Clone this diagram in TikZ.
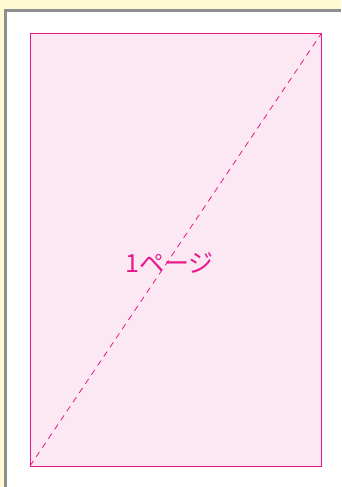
\documentclass[tikz,border=0pt]{standalone}
\usepackage{fontspec}
\newfontfamily\jpfont{Noto Sans CJK JP}
\definecolor{cream}{HTML}{FFFAD4}
\definecolor{frameg}{HTML}{8E8E8E}
\definecolor{pinkfill}{HTML}{FCE8F2}
\definecolor{pinkline}{HTML}{E8178A}
\tikzset{
  pagebox/.style={draw=pinkline, fill=pinkfill, line width=1pt},
  diag/.style={draw=pinkline, line width=0.8pt, dash pattern=on 6pt off 5pt},
  pagelabel/.style={text=pinkline, font=\jpfont\fontsize{25}{28}\selectfont, inner sep=0pt}
}
\begin{document}
\begin{tikzpicture}[x=1pt,y=-1pt]
\useasboundingbox (0,0) rectangle (341,487);
\fill[cream] (0,0) rectangle (341,487);
\fill[white] (5,10) rectangle (341,487);
\draw[frameg, line width=2.5pt] (5.5,487) -- (5.5,10.5) -- (341,10.5);
\coordinate (tl) at (30,34);
\coordinate (br) at (321,466);
\path[pagebox] (tl) rectangle (br);
\coordinate (bl) at (30,466);
\coordinate (tr) at (321,34);
\draw[diag] (bl) -- (tr);
\node[pagelabel] (lbl) at (169.5,263) {1ページ};
\end{tikzpicture}
\end{document}
